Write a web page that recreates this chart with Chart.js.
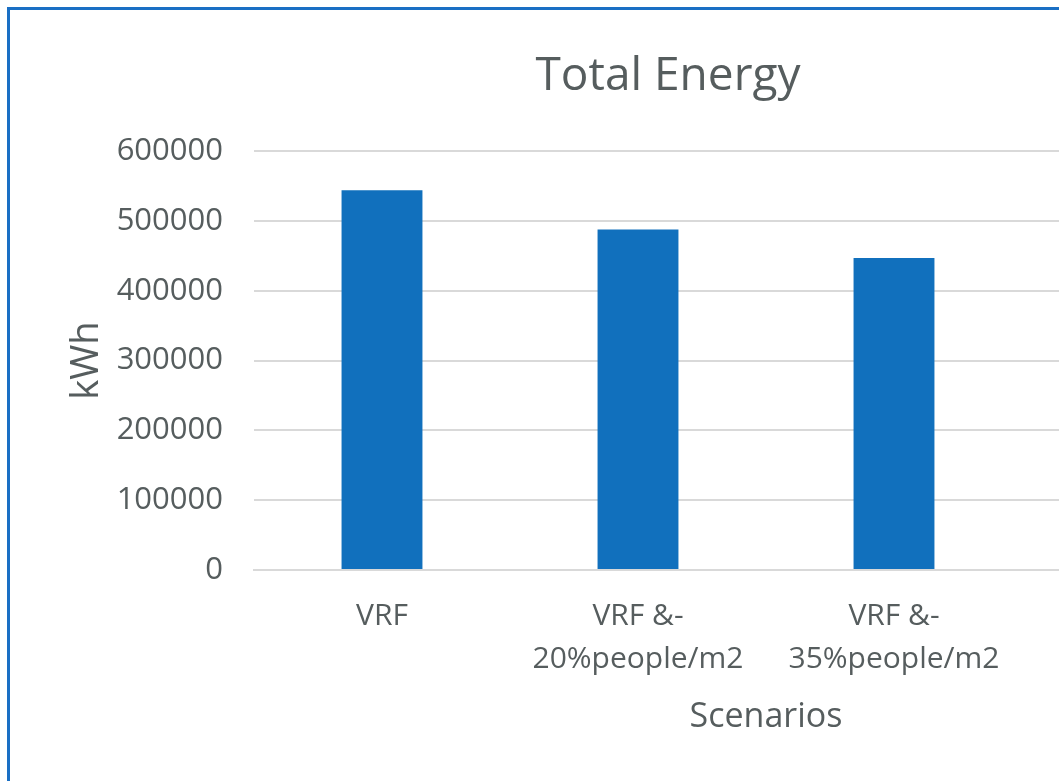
<!DOCTYPE html>
<html>
<head>
<meta charset="utf-8">
<script src="https://cdn.jsdelivr.net/npm/chart.js@4"></script>
<style>
  html, body { margin: 0; padding: 0; background: #fff; overflow: hidden; }
  #frame {
    position: absolute; left: 7px; top: 7px;
    width: 1400px; height: 900px;
    border: 3px solid #1a6fc4;
    box-sizing: border-box;
  }
  #chart { position: absolute; left: 10px; top: 10px; }
</style>
</head>
<body>
<div id="frame"></div>
<canvas id="chart" width="1316" height="771"></canvas>
<script>
// data
const categories = ['VRF', ['VRF &-', '20%people/m2'], ['VRF &-', '35%people/m2']];
const energyKwh = [544000, 488000, 447000];
const yMin = 0;
const yMax = 600000;
const yStep = 100000;

const textColor = '#565d5e';
const gridColor = '#d9d9d9';
const barColor = '#1170bd';

window.addEventListener('DOMContentLoaded', () => {
  const ctx = document.getElementById('chart').getContext('2d');

  new Chart(ctx, {
    type: 'bar',
    data: {
      // blank 4th slot keeps the plot running off the right edge like the original
      labels: [...categories, ''],
      datasets: [{
        data: [...energyKwh, null],
        backgroundColor: barColor,
        categoryPercentage: 1,
        barPercentage: 0.316
      }]
    },
    options: {
      responsive: false,
      animation: false,
      plugins: {
        legend: { display: false },
        tooltip: { enabled: false },
        title: {
          display: true,
          text: 'Total Energy',
          color: textColor,
          font: { family: 'Open Sans', size: 46, weight: 'normal', lineHeight: 1.2 },
          padding: { top: 39, bottom: 47 }
        }
      },
      scales: {
        x: {
          grid: { display: false, drawTicks: false },
          border: { display: true, color: gridColor, width: 2 },
          ticks: {
            color: textColor,
            font: { family: 'Open Sans', size: 30, lineHeight: 1.43 },
            padding: 25,
            maxRotation: 0,
            autoSkip: false
          },
          title: {
            display: true,
            text: 'Scenarios',
            color: textColor,
            font: { family: 'Open Sans', size: 34, lineHeight: 1.2 },
            padding: { top: 0, bottom: 43 }
          },
          afterFit: s => { s.height = 211; }
        },
        y: {
          min: yMin,
          max: yMax,
          grid: { color: gridColor, lineWidth: 2, drawTicks: false },
          border: { display: false },
          ticks: {
            stepSize: yStep,
            color: textColor,
            font: { family: 'Open Sans', size: 31 },
            padding: 31,
            callback: v => String(v)
          },
          title: {
            display: true,
            text: 'kWh',
            color: textColor,
            font: { family: 'Open Sans', size: 38, lineHeight: 1.2 },
            padding: { top: 54, bottom: 0 }
          },
          afterFit: s => { s.width = 244; }
        },
        // empty right-hand strip so the title stays centred where it was
        yRight: {
          position: 'right',
          display: true,
          grid: { display: false, drawTicks: false },
          border: { display: false },
          ticks: { display: false },
          afterFit: s => { s.width = 48; }
        }
      }
    }
  });
});
</script>
</body>
</html>
